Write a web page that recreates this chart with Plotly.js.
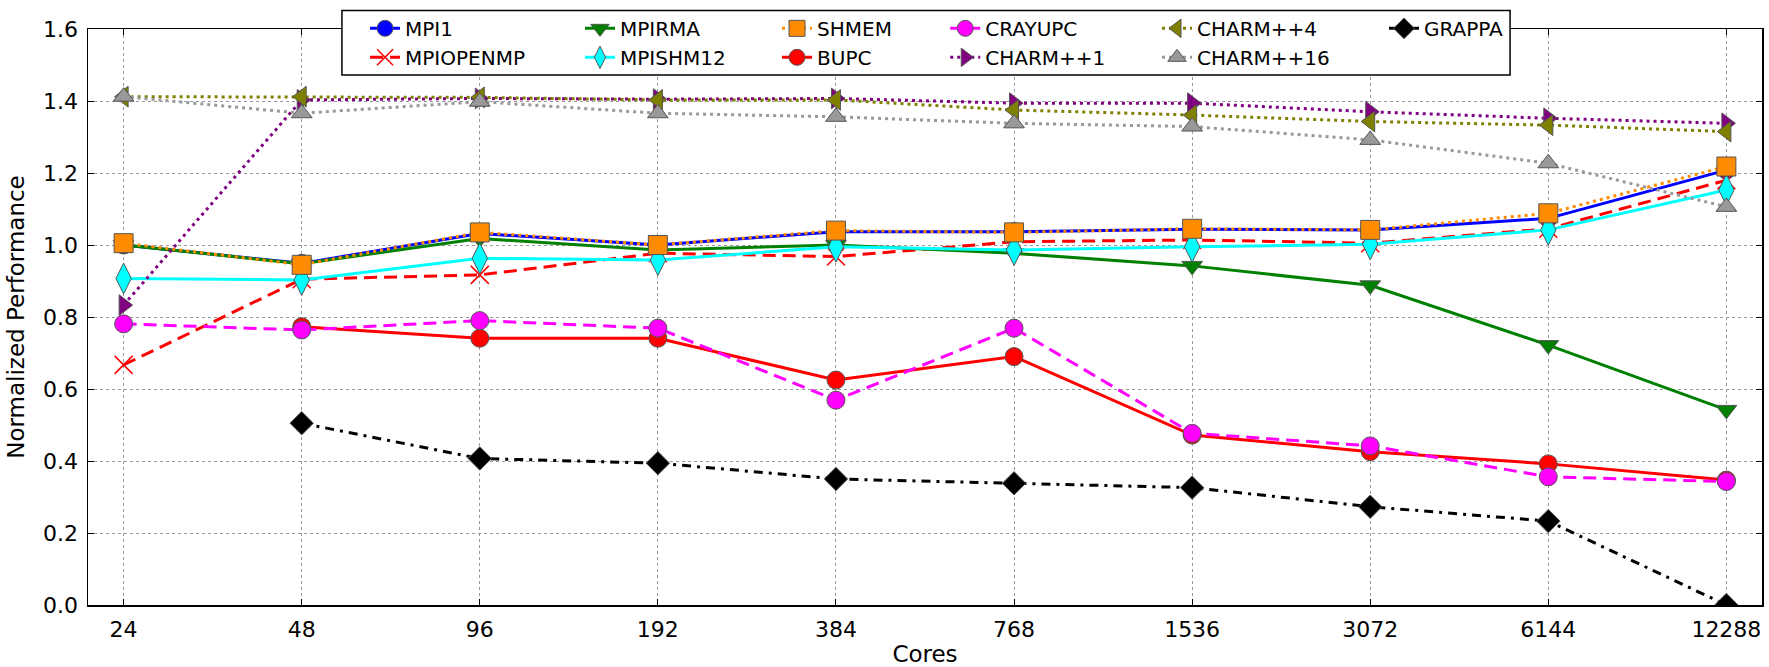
<!DOCTYPE html>
<html>
<head>
<meta charset="utf-8">
<script src="https://cdn.plot.ly/plotly-3.0.1.min.js"></script>
<style>html,body{margin:0;padding:0;background:#fff;}#chart{width:1769px;height:667px;}</style>
</head>
<body>
<div id="chart"></div>
<script>
// ---- data ----
const cores = ['24','48','96','192','384','768','1536','3072','6144','12288'];
const yTicks = [0, 0.2, 0.4, 0.6, 0.8, 1.0, 1.2, 1.4, 1.6];

const mpi1      = [1.000, 0.949, 1.032, 1.000, 1.037, 1.037, 1.044, 1.042, 1.074, 1.208];
const mpiOpenmp = [0.667, 0.905, 0.917, 0.977, 0.968, 1.009, 1.014, 1.005, 1.045, 1.180];
const mpiRma    = [1.000, 0.948, 1.018, 0.986, 1.000, 0.977, 0.942, 0.888, 0.722, 0.542];
const mpiShm12  = [0.907, 0.903, 0.963, 0.958, 0.995, 0.986, 0.995, 1.002, 1.042, 1.153];
const shmem     = [1.005, 0.945, 1.035, 1.000, 1.040, 1.035, 1.045, 1.042, 1.088, 1.218];
const bupc      = [null,  0.773, 0.741, 0.741, 0.625, 0.690, 0.472, 0.426, 0.392, 0.347];
const crayupc   = [0.781, 0.764, 0.790, 0.769, 0.569, 0.769, 0.477, 0.442, 0.356, 0.343];
const charm1    = [0.833, 1.403, 1.407, 1.405, 1.407, 1.394, 1.394, 1.370, 1.352, 1.338];
const charm4    = [1.412, 1.412, 1.410, 1.403, 1.403, 1.375, 1.361, 1.343, 1.333, 1.315];
const charm16   = [1.412, 1.366, 1.398, 1.366, 1.356, 1.338, 1.329, 1.292, 1.227, 1.106];
const grappa    = [null,  0.505, 0.407, 0.394, 0.350, 0.338, 0.326, 0.273, 0.233, 0.000];

const edge = {color: '#555', width: 1};
function tr(name, y, color, dash, symbol, size, legend, extra) {
  const t = {
    type: 'scatter', mode: 'lines+markers', name: name, x: cores, y: y,
    line: {color: color, width: 3, dash: dash},
    marker: {symbol: symbol, size: size, color: color, line: edge},
    legend: legend, connectgaps: false
  };
  return Object.assign(t, extra || {});
}

const traces = [
  tr('MPI1', mpi1, '#0000ff', 'solid', 'circle', 18, 'legend'),
  tr('MPIOPENMP', mpiOpenmp, '#ff0000', '13px,7px', 'x-thin', 18, 'legend',
     {marker: {symbol: 'x-thin', size: 18, color: '#ff0000', line: {color: '#ff0000', width: 1.5}}}),
  tr('MPIRMA', mpiRma, '#008000', 'solid', 'triangle-down', 18, 'legend2'),
  tr('MPISHM12', mpiShm12, '#00ffff', 'solid', 'diamond-tall', 22, 'legend2'),
  tr('SHMEM', shmem, '#ff8c00', '3px,4px', 'square', 19, 'legend3'),
  tr('BUPC', bupc, '#ff0000', 'solid', 'circle', 18, 'legend3'),
  tr('CRAYUPC', crayupc, '#ff00ff', '13px,7px', 'circle', 18, 'legend4'),
  tr('CHARM++1', charm1, '#800080', '3px,4px', 'triangle-right', 18, 'legend4'),
  tr('CHARM++4', charm4, '#808000', '3px,4px', 'triangle-left', 18, 'legend5'),
  tr('CHARM++16', charm16, '#999999', '3px,4px', 'triangle-up', 18, 'legend5'),
  tr('GRAPPA', grappa, '#000000', '9px,6px,3px,6px', 'diamond', 18, 'legend6')
];

const FONT = 'DejaVu Sans, sans-serif';
function leg(x) {
  return {x: x, y: 1.035, xanchor: 'left', yanchor: 'top', orientation: 'v',
          bgcolor: 'rgba(0,0,0,0)', borderwidth: 0,
          font: {family: FONT, size: 20, color: '#000'}, tracegroupgap: 0};
}

const layout = {
  width: 1769, height: 667,
  margin: {l: 88, r: 7, t: 29, b: 62},
  paper_bgcolor: '#fff', plot_bgcolor: '#fff',
  font: {family: FONT, size: 22, color: '#000'},
  showlegend: true,
  xaxis: {
    type: 'category', categoryorder: 'array', categoryarray: cores,
    range: [-0.2, 9.2],
    showline: true, mirror: 'ticks', linecolor: '#000', linewidth: 1.5,
    ticks: 'inside', ticklen: 6, tickcolor: '#000',
    showgrid: true, gridcolor: '#999', griddash: 'dot', gridwidth: 1,
    zeroline: false, tickfont: {family: FONT, size: 22},
    ticklabelstandoff: 4,
    title: {text: 'Cores', font: {family: FONT, size: 23}, standoff: 6}
  },
  yaxis: {
    range: [0, 1.6], tickvals: yTicks, tickformat: '.1f',
    showline: true, mirror: 'ticks', linecolor: '#000', linewidth: 1.5,
    ticks: 'inside', ticklen: 6, tickcolor: '#000',
    showgrid: true, gridcolor: '#999', griddash: 'dot', gridwidth: 1,
    zeroline: false, tickfont: {family: FONT, size: 22},
    ticklabelstandoff: 4,
    title: {text: 'Normalized Performance', font: {family: FONT, size: 23}, standoff: 12}
  },
  legend: leg(0.1655),
  legend2: leg(0.2939),
  legend3: leg(0.4116),
  legend4: leg(0.5121),
  legend5: leg(0.6386),
  legend6: leg(0.7742),
  shapes: [{
    type: 'rect', xref: 'paper', yref: 'paper', layer: 'above',
    x0: 0.1517, x1: 0.8495, y0: 0.920, y1: 1.032,
    line: {color: '#000', width: 1.5}, fillcolor: '#fff'
  }]
};

Plotly.newPlot('chart', traces, layout, {displayModeBar: false, staticPlot: true});
</script>
</body>
</html>
